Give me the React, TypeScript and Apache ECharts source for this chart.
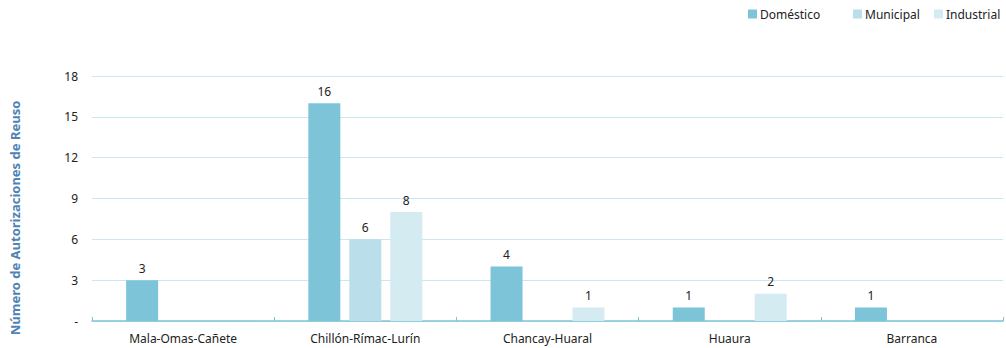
import React, { useEffect, useRef } from "react";
import * as echarts from "echarts";

const categories = ["Mala-Omas-Cañete", "Chillón-Rímac-Lurín", "Chancay-Huaral", "Huaura", "Barranca"];
const domestico = [3, 16, 4, 1, 1];
const municipal = [null, 6, null, null, null];
const industrial = [null, 8, 1, 2, null];
const seriesNames = ["Doméstico", "Municipal", "Industrial"];
const colors = ["#7dc4d9", "#bbdfea", "#d4ebf2"];
const yAxisTitle = "Número de Autorizaciones de Reuso";
const legendLefts = [748, 853, 934];

const FONT = "'Noto Sans', Lato, sans-serif";

export default function App() {
  const ref = useRef<HTMLDivElement>(null);
  useEffect(() => {
    const chart = echarts.init(ref.current!, null, { renderer: "svg" });
    const mk = (name: string, data: (number | null)[], color: string) => ({
      name,
      type: "bar",
      data,
      barWidth: 32,
      barGap: "28%",
      itemStyle: { color },
      label: {
        show: true,
        position: "top",
        distance: 6,
        color: "#222",
        fontSize: 12,
        fontFamily: FONT,
      },
    });
    chart.setOption({
      animation: false,
      textStyle: { fontFamily: FONT },
      legend: seriesNames.map((n, i) => ({
        top: 8,
        left: legendLefts[i],
        padding: 0,
        itemWidth: 9,
        itemHeight: 9,
        icon: "rect",
        textStyle: { fontSize: 12, color: "#222", fontFamily: FONT, padding: [0, 0, 0, -2] },
        data: [n],
      })),
      graphic: [
        {
          type: "text",
          x: 15,
          y: 218,
          rotation: Math.PI / 2,
          style: {
            text: yAxisTitle,
            fill: "#4f83b5",
            font: "bold 13px 'Noto Sans', sans-serif",
            align: "center",
            verticalAlign: "middle",
          },
        },
      ],
      grid: { left: 92, right: 3, top: 76, bottom: 27, containLabel: false },
      xAxis: {
        type: "category",
        data: categories,
        axisLine: { lineStyle: { color: "#7fc4d9", width: 1.5 } },
        axisTick: { show: true, inside: true, length: 4, lineStyle: { color: "#7fc4d9" } },
        axisLabel: { color: "#222", fontSize: 12, margin: 11, fontFamily: FONT },
      },
      yAxis: {
        type: "value",
        min: 0,
        max: 18,
        interval: 3,
        axisLine: { show: false },
        axisTick: { show: false },
        axisLabel: {
          color: "#222",
          fontSize: 12,
          margin: 14,
          fontFamily: FONT,
          formatter: (v: number) => (v === 0 ? "-" : String(v)),
        },
        splitLine: { lineStyle: { color: "#c9e7f0", width: 1 } },
      },
      series: [
        mk(seriesNames[0], domestico, colors[0]),
        mk(seriesNames[1], municipal, colors[1]),
        mk(seriesNames[2], industrial, colors[2]),
      ],
    });
    return () => chart.dispose();
  }, []);
  return <div ref={ref} style={{ width: 1006, height: 348, position: "absolute", left: 0, top: 0 }} />;
}
